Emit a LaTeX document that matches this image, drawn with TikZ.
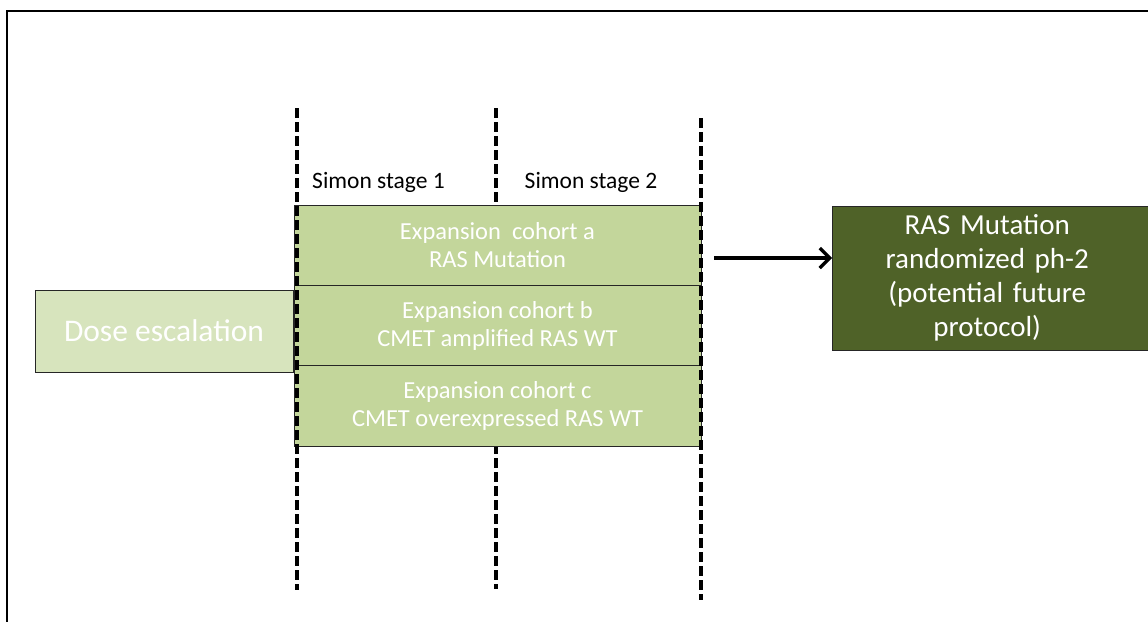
\documentclass[tikz,border=0pt]{standalone}
\usepackage{fontspec}
\setmainfont{Carlito}
\usetikzlibrary{positioning,arrows.meta}
\definecolor{cohortgreen}{HTML}{C3D69B}
\definecolor{dosegreen}{HTML}{D7E4BD}
\definecolor{olivedark}{HTML}{4F6228}
\tikzset{
  cohort/.style={draw=black!85, fill=cohortgreen, text=white, minimum width=407pt,
    minimum height=80.3pt, inner sep=0pt, outer sep=0pt, align=center,
    font=\fontsize{24.5}{28}\selectfont},
  stagelabel/.style={font=\fontsize{23.5}{28}\selectfont, inner sep=0pt},
  stageline/.style={line width=3.5pt, dash pattern=on 10pt off 4pt},
}
\begin{document}
\begin{tikzpicture}[x=1pt,y=-1pt]
\useasboundingbox (0,0) rectangle (1148,621);
\draw[line width=2pt] (7,640) -- (7,11) -- (1160,11);

% middle border runs behind the cohorts
\draw[stageline] (496,108) -- (496,589);

% dose escalation and the three cohorts
\node[draw=black!85, fill=dosegreen, text=white, minimum width=258pt, minimum height=82pt,
  inner sep=0pt, font=\fontsize{31.5}{36}\selectfont] (dose) at (164,331) {Dose escalation};
\node[cohort] (cohA) at (497.5,245.2) {Expansion\ \ cohort a\\RAS Mutation};
\node[cohort, below=0pt of cohA] (cohB) {Expansion cohort b\\CMET amplified RAS WT};
\node[cohort, below=0pt of cohB] (cohC) {Expansion cohort c\\CMET overexpressed RAS WT};

% phase 2
\node[draw=black!85, fill=olivedark, text=white, anchor=west, minimum width=330pt,
  minimum height=144pt, inner sep=0pt, text width=310pt, align=center,
  font=\fontsize{29}{34}\selectfont] (future) at (832,278)
  {\hspace*{-20pt}RAS Mutation\\\hspace*{-20pt}randomized ph-2\\\hspace*{-20pt}(potential future\\\hspace*{-20pt}protocol)};

% outer stage borders
\foreach \x/\ytop/\ybot in {297/108/590, 701/118/600} {
  \draw[stageline] (\x,\ytop) -- (\x,\ybot);
}
\node[stagelabel] (stageA) at (378.5,182) {Simon stage 1};
\node[stagelabel] (stageB) at (591,182) {Simon stage 2};

\coordinate (arrtail) at (714,258);
\draw[-{Straight Barb[length=10pt,width=20pt]}, line width=3.2pt] (arrtail) -- (arrtail -| future.west);
\end{tikzpicture}
\end{document}
